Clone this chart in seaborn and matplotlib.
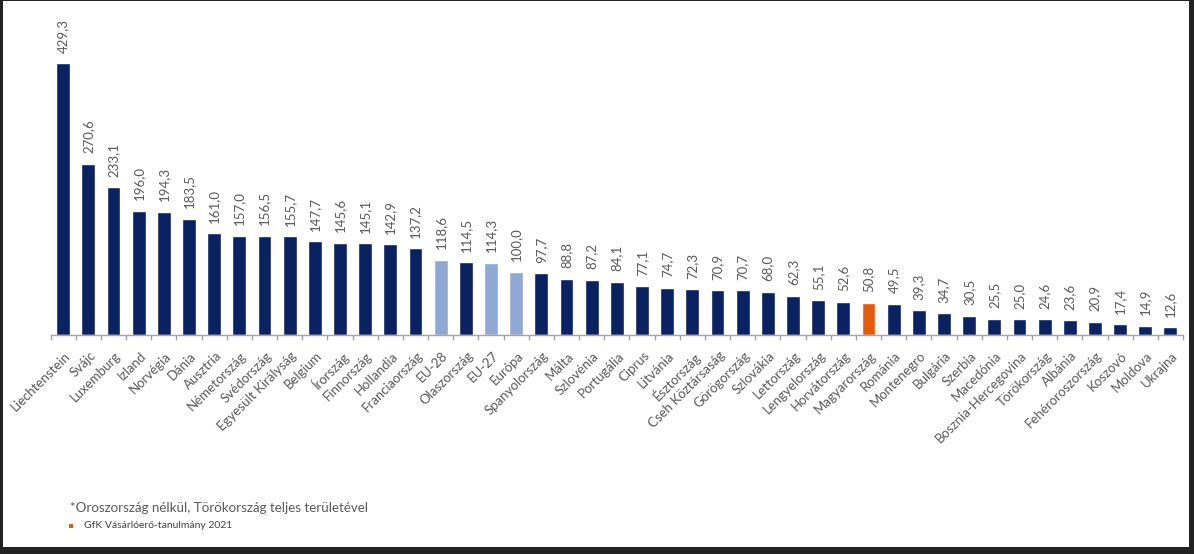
import numpy as np
import matplotlib
matplotlib.use("Agg")
import matplotlib.pyplot as plt
import matplotlib.transforms as mtransforms
from matplotlib.patches import Rectangle
import seaborn as sns

countries = ["Liechtenstein", "Svájc", "Luxemburg", "Izland", "Norvégia", "Dánia", "Ausztria",
             "Németország", "Svédország", "Egyesült Királyság", "Belgium", "Írország", "Finnország",
             "Hollandia", "Franciaország", "EU-28", "Olaszország", "EU-27", "Európa", "Spanyolország",
             "Málta", "Szlovénia", "Portugália", "Ciprus", "Litvánia", "Észtország", "Cseh Köztársaság",
             "Görögország", "Szlovákia", "Lettország", "Lengyelország", "Horvátország", "Magyarország",
             "Románia", "Montenegro", "Bulgária", "Szerbia", "Macedónia", "Bosznia-Hercegovina",
             "Törökország", "Albánia", "Fehéroroszország", "Koszovó", "Moldova", "Ukrajna"]
values = [429.3, 270.6, 233.1, 196.0, 194.3, 183.5, 161.0, 157.0, 156.5, 155.7, 147.7, 145.6, 145.1,
          142.9, 137.2, 118.6, 114.5, 114.3, 100.0, 97.7, 88.8, 87.2, 84.1, 77.1, 74.7, 72.3, 70.9,
          70.7, 68.0, 62.3, 55.1, 52.6, 50.8, 49.5, 39.3, 34.7, 30.5, 25.5, 25.0, 24.6, 23.6, 20.9,
          17.4, 14.9, 12.6]
aggregates = ["EU-28", "EU-27", "Európa"]
highlight = ["Magyarország"]

footnote = "*Oroszország nélkül, Törökország teljes területével"
source = "GfK Vásárlóerő-tanulmány 2021"

NAVY = "#0b2262"
LIGHT = "#8fa8d4"
ORANGE = "#e35b0c"
palette = {c: (ORANGE if c in highlight else LIGHT if c in aggregates else NAVY) for c in countries}

sns.set_theme(style="white")
plt.rcParams["font.family"] = ["Lato", "DejaVu Sans"]

W, H = 1194, 554
fig = plt.figure(figsize=(W / 100, H / 100), dpi=100, facecolor="#222222")
fig.patches.append(Rectangle((3 / W, 7 / H), 1186 / W, 546 / H, transform=fig.transFigure,
                             facecolor="white", edgecolor="none", zorder=-10))

ax = fig.add_axes([50.6 / W, (H - 335) / H, 1132.4 / W, 335 / H])
ax.set_facecolor("none")

sns.barplot(x=countries, y=values, hue=countries, palette=palette, legend=False,
            width=0.55, saturation=1, ax=ax)

ax.set_xlim(-0.5, len(countries) - 0.5)
ax.set_ylim(0, 335 / 0.6336)

for cont in ax.containers:
    ax.bar_label(cont, labels=[f"{b.get_height():.1f}".replace(".", ",") for b in cont],
                 rotation=90, padding=7.5, fontsize=9.5, color="#595959")

for s in ["top", "left", "right"]:
    ax.spines[s].set_visible(False)
ax.spines["bottom"].set_color("#a6a6a6")
ax.spines["bottom"].set_linewidth(1.0)
ax.set_yticks([])
ax.set_xlabel("")
ax.set_ylabel("")

ax.set_xticks(np.arange(len(countries)))
ax.set_xticklabels(countries, rotation=45, ha="right", va="top", rotation_mode="anchor",
                   fontsize=9.5, color="#595959")
ax.set_xticks(np.arange(-0.5, len(countries), 1), minor=True)
ax.tick_params(axis="x", which="major", length=0, pad=10.5)
ax.tick_params(axis="x", which="minor", length=3.5, width=1, color="#a6a6a6", bottom=True)
offset = mtransforms.ScaledTranslation(1 / 100, 0, fig.dpi_scale_trans)
for lbl in ax.get_xticklabels():
    lbl.set_transform(lbl.get_transform() + offset)

fig.text(70 / W, 1 - 508 / H, footnote, fontsize=9.6, color="#595959", va="center", ha="left")
fig.patches.append(Rectangle((69 / W, 1 - 528 / H), 4 / W, 4 / H, transform=fig.transFigure,
                             facecolor=ORANGE, edgecolor="none"))
fig.text(84 / W, 1 - 526 / H, source, fontsize=7.5, color="#404040", va="center", ha="left")

fig.savefig("out.png", dpi=100, facecolor=fig.get_facecolor())
